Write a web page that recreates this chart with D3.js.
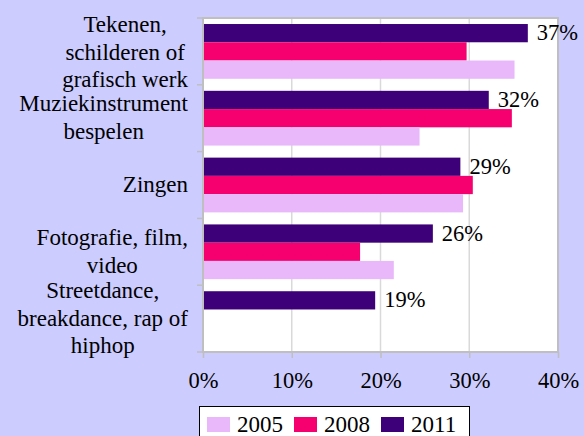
<!DOCTYPE html>
<html><head><meta charset="utf-8">
<script src="https://cdn.jsdelivr.net/npm/d3@7"></script>
</head><body style="margin:0;padding:0;background:#CCCCFF">
<script>
const categories = [
  "Tekenen,|schilderen of|grafisch werk",
  "Muziekinstrument|bespelen",
  "Zingen",
  "Fotografie, film,|video",
  "Streetdance,|breakdance, rap of|hiphop"
];
const seriesNames = ["2011","2008","2005"];
const values2011 = [36.6, 32.2, 29.0, 25.9, 19.4];
const values2008 = [29.7, 34.8, 30.4, 17.7, null];
const values2005 = [35.1, 24.4, 29.3, 21.5, null];
const dataLabels2011 = ["37%","32%","29%","26%","19%"];
const xTicks = [0,10,20,30,40];
const legendOrder = ["2005","2008","2011"];
const colors = {"2005":"#E8B8FA","2008":"#F5006E","2011":"#3D0078"};

const FONT="'Liberation Serif'";
const W=584,H=436;
const m={left:203,top:18,right:26,bottom:84};
const pw=W-m.left-m.right, ph=H-m.top-m.bottom;
const svg=d3.select("body").append("svg").attr("width",W).attr("height",H).style("display","block");
svg.append("rect").attr("width",W).attr("height",H).attr("fill","#CCCCFF");

const x=d3.scaleLinear().domain([0,40]).range([m.left,m.left+pw]);
const y=d3.scaleBand().domain(categories).range([m.top,m.top+ph]);
const inner=d3.scaleBand().domain(seriesNames).range([0,y.bandwidth()]).paddingOuter(0.33).paddingInner(0);

svg.append("rect").attr("x",m.left).attr("y",m.top).attr("width",pw).attr("height",ph).attr("fill","#fff");
svg.append("g").selectAll("line").data(xTicks.slice(1,-1)).join("line")
  .attr("x1",d=>x(d)).attr("x2",d=>x(d)).attr("y1",m.top).attr("y2",m.top+ph)
  .attr("stroke","#D9D9D9").attr("stroke-width",1.5);

const series={"2011":values2011,"2008":values2008,"2005":values2005};
seriesNames.forEach(s=>{
  svg.append("g").selectAll("rect").data(categories.map((c,i)=>({c,v:series[s][i]})).filter(d=>d.v!=null)).join("rect")
    .attr("x",x(0)-1).attr("y",d=>y(d.c)+inner(s)).attr("height",inner.bandwidth())
    .attr("width",d=>x(d.v)-x(0)+1).attr("fill",colors[s]);
});

svg.append("rect").attr("x",m.left).attr("y",m.top).attr("width",pw).attr("height",ph)
  .attr("fill","none").attr("stroke","#BFBFBF").attr("stroke-width",2);

const ya=svg.append("g").attr("transform",`translate(${m.left},0)`);
[...categories.map(c=>y(c)), m.top+ph].forEach(v=>{
  ya.append("line").attr("x1",-6).attr("x2",0).attr("y1",v).attr("y2",v).attr("stroke","#BFBFBF").attr("stroke-width",1.5);
});
const xa=svg.append("g").attr("transform",`translate(0,${m.top+ph})`)
  .call(d3.axisBottom(x).tickValues(xTicks).tickFormat(d=>d+"%").tickSize(6).tickPadding(14));
xa.select(".domain").remove();
xa.selectAll("line").attr("stroke","#BFBFBF").attr("stroke-width",1.5);
xa.selectAll("text").attr("font-size",22.5).style("font-family",FONT).attr("fill","#000");

const rightEdge=188;
categories.forEach((c,i)=>{
  const lines=c.split("|");
  const lh=27.5;
  const cy=y(c)+y.bandwidth()/2+(i===0?1.5:0);
  const t=svg.append("text").attr("text-anchor","middle").attr("font-size",23).style("font-family",FONT);
  const spans=lines.map((l,j)=>t.append("tspan").attr("y",cy+(j-(lines.length-1)/2)*lh+7).text(l));
  const maxW=d3.max(spans,s=>s.node().getComputedTextLength());
  spans.forEach(s=>s.attr("x",rightEdge-maxW/2));
});
svg.append("g").selectAll("text").data(categories.map((c,i)=>({c,v:values2011[i],l:dataLabels2011[i]}))).join("text")
  .attr("x",d=>x(d.v)+9).attr("y",d=>y(d.c)+inner("2011")+inner.bandwidth()/2+7)
  .attr("font-size",22.5).style("font-family",FONT).text(d=>d.l);

const lg=svg.append("g");
lg.append("rect").attr("x",199.5).attr("y",406.5).attr("width",270).attr("height",40).attr("fill","#fff").attr("stroke","#000").attr("stroke-width",1);
const lx=[207,294,381];
legendOrder.forEach((s,i)=>{
  lg.append("rect").attr("x",lx[i]).attr("y",417).attr("width",23).attr("height",15).attr("fill",colors[s]);
  lg.append("text").attr("x",lx[i]+30).attr("y",432).attr("font-size",23).style("font-family",FONT).text(s);
});
</script></body></html>
